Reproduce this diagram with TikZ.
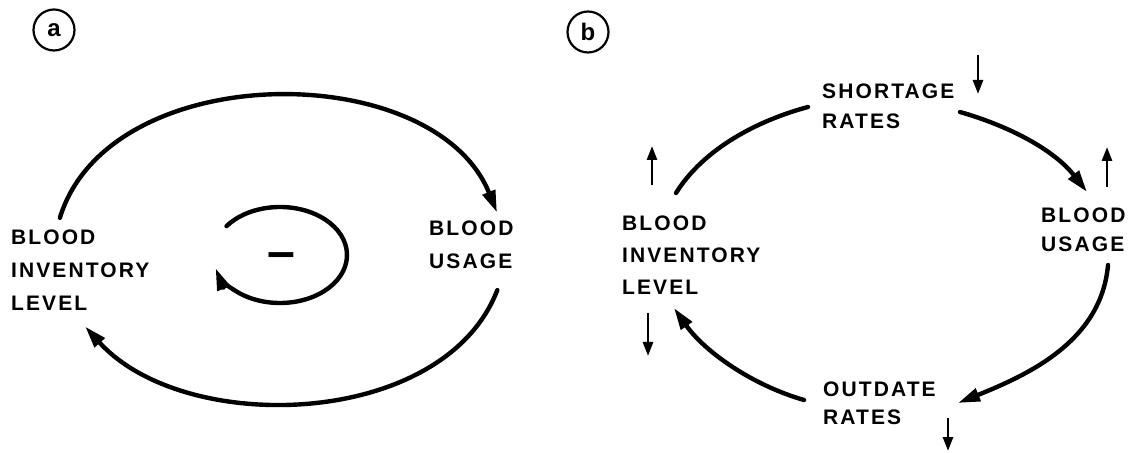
\documentclass[tikz,border=0pt]{standalone}
\usepackage{fontspec}
\setmainfont{Liberation Sans}
\newfontfamily\labfont{Liberation Sans}[LetterSpace=10]
\usetikzlibrary{arrows.meta,calc}

\begin{document}
\begin{tikzpicture}[x=1pt,y=1pt,
  lbl/.style={font=\labfont\bfseries\fontsize{21pt}{#1}\selectfont,
              align=left, inner sep=0pt, anchor=north west},
  lbl/.default=33pt,
  tag/.style={draw, circle, line width=2.2pt, minimum size=41pt, inner sep=0pt,
              font=\bfseries\fontsize{24pt}{24pt}\selectfont},
  flow/.style={line width=4.4pt, line cap=round, -{Triangle[length=22pt,width=13pt]}},
  link/.style={line width=4.4pt, line cap=round},
  ext/.style={line width=2.6pt, -{Triangle[length=14pt,width=10pt]}},
]
\path[use as bounding box] (0,0) rectangle (1131,452);

% ---------- panel (a): single negative loop ----------
\node[tag] (tagA) at (54,422) {a};
\node[lbl] (invA) at (11,222) {BLOOD\\INVENTORY\\LEVEL};
\node[lbl] (useA) at (429,231) {BLOOD\\USAGE};

\coordinate (loopc) at (280,197);
\node[font=\bfseries\fontsize{50pt}{50pt}\selectfont, inner sep=0pt, anchor=base]
  (sign) at ($(loopc)+(1,-14)$) {–};

\coordinate (a1) at (59.9,234.2);
\coordinate (a2) at (497,239.5);
\draw[flow] (a1) to[out=73,in=112,looseness=0.98] (a2);
\coordinate (a3) at (497.3,161.9);
\coordinate (a4) at (85.1,125.5);
\draw[flow] (a3) to[out=-111,in=-48,looseness=0.92] (a4);

\coordinate (loopstart) at ($(loopc)+(143:67 and 48)$);
\draw[flow] (loopstart) arc[start angle=143, end angle=-164, x radius=67, y radius=48];

% ---------- panel (b): shortage and outdate rates ----------
\node[tag] (tagB) at (588,420) {b};
\node[lbl=32pt] (invB) at (622,236) {BLOOD\\INVENTORY\\LEVEL};
\node[lbl=29pt] (useB) at (1041,244) {BLOOD\\USAGE};
\node[lbl=30pt] (short) at (822,368) {SHORTAGE\\RATES};
\node[lbl=28pt] (outd) at (823,70) {OUTDATE\\RATES};

\coordinate (b1) at (676,259);
\coordinate (b2) at (808,345);
\draw[link] (b1) to[out=58,in=195,looseness=0.85] (b2);
\coordinate (b3) at (960,340);
\coordinate (b4) at (1087,260);
\draw[flow] (b3) to[out=-16,in=128,looseness=0.9] (b4);
\coordinate (b5) at (1108,187);
\coordinate (b6) at (958,49);
\draw[flow] (b5) to[out=-95,in=22,looseness=0.96] (b6);
\coordinate (b7) at (804,52);
\coordinate (b8) at (674,144);
\draw[flow] (b7) to[out=164,in=-55,looseness=0.86] (b8);

% small up/down trend arrows beside the variables
\coordinate (s1) at (978,397); \coordinate (s2) at (978,358);
\draw[ext] (s1) -- (s2);
\coordinate (i1) at (652,267); \coordinate (i2) at (652,306);
\draw[ext] (i1) -- (i2);
\coordinate (i3) at (648,139); \coordinate (i4) at (648,96);
\draw[ext] (i3) -- (i4);
\coordinate (u1) at (1107,265); \coordinate (u2) at (1107,305);
\draw[ext] (u1) -- (u2);
\coordinate (o1) at (948,34); \coordinate (o2) at (948,1);
\draw[ext] (o1) -- (o2);
\end{tikzpicture}
\end{document}
